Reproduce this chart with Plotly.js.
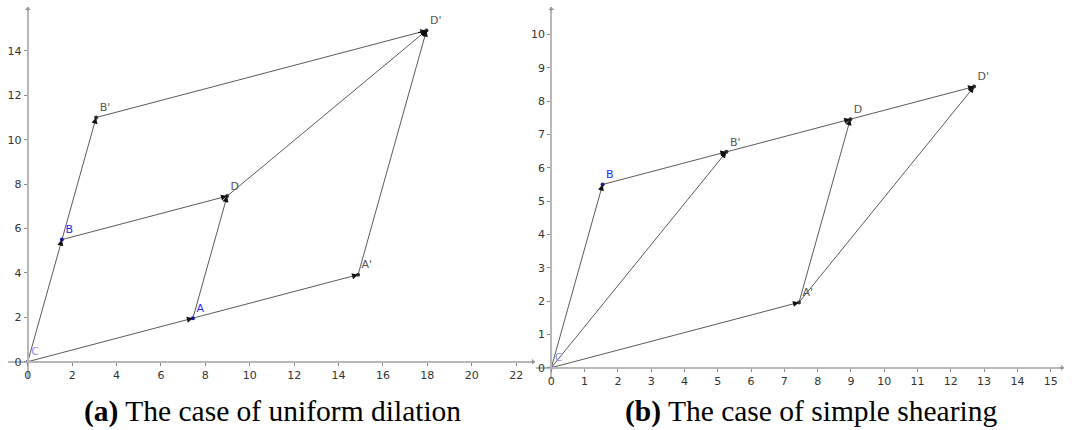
<!DOCTYPE html>
<html>
<head>
<meta charset="utf-8">
<script src="https://cdn.plot.ly/plotly-3.0.1.min.js"></script>
<style>html,body{margin:0;padding:0;background:#fff;}#chart{width:1072px;height:430px;}</style>
</head>
<body>
<div id="chart"></div>
<script>
// ---- Data: panel (a) uniform dilation ----
const namesA = ['C', 'A', 'B', 'D', "A'", "B'", "D'"];
const xA = [0, 7.44, 1.54, 8.98, 14.88, 3.08, 17.96];
const yA = [0, 1.96, 5.5, 7.46, 3.92, 11.0, 14.92];
const vectorsA = [['C','A'], ['A',"A'"], ['C','B'], ['B',"B'"], ['B','D'], ['A','D'], ['D',"D'"], ["A'","D'"], ["B'","D'"]];
const xTicksA = [0, 2, 4, 6, 8, 10, 12, 14, 16, 18, 20, 22];
const yTicksA = [0, 2, 4, 6, 8, 10, 12, 14];

// ---- Data: panel (b) simple shearing ----
const namesB = ['C', "A'", 'B', "B'", 'D', "D'"];
const xB = [0, 7.44, 1.54, 5.26, 8.98, 12.70];
const yB = [0, 1.96, 5.5, 6.48, 7.46, 8.44];
const vectorsB = [['C',"A'"], ['C','B'], ['C',"B'"], ['B',"B'"], ["B'",'D'], ['D',"D'"], ["A'",'D'], ["A'","D'"]];
const xTicksB = [0, 1, 2, 3, 4, 5, 6, 7, 8, 9, 10, 11, 12, 13, 14, 15];
const yTicksB = [0, 1, 2, 3, 4, 5, 6, 7, 8, 9, 10];

const captionA = '<b>(a)</b> The case of uniform dilation';
const captionB = '<b>(b)</b> The case of simple shearing';

// ---- Styling / layout ----
const W = 1072, H = 430;
const labelColor = {'C': '#8c8cff', 'A': '#2a2aff', 'B': '#2a2aff'};
const dotColor = {'C': '#3b3bb0', 'A': '#1a1aa0', 'B': '#1a1aa0'};
const rangeXA = [-0.89, 22.85], rangeYA = [-0.78, 15.98];
const rangeXB = [-0.46, 15.4], rangeYB = [-0.34, 10.83];
const domXA = [8 / W, 535 / W], domXB = [536 / W, 1064 / W];
const domY = [1 - 379 / H, 1 - 7 / H];

function zeroPos(range, dom) {
  return dom[0] + (0 - range[0]) / (range[1] - range[0]) * (dom[1] - dom[0]);
}

const traces = [];
const annotations = [];

function buildPanel(names, xs, ys, vectors, xref, yref) {
  const idx = {};
  names.forEach((n, i) => idx[n] = i);
  vectors.forEach(([t, h]) => {
    traces.push({
      type: 'scatter', mode: 'lines', xaxis: xref, yaxis: yref,
      x: [xs[idx[t]], xs[idx[h]]], y: [ys[idx[t]], ys[idx[h]]],
      line: {color: '#5a5a5a', width: 1}, hoverinfo: 'skip', showlegend: false
    });
    const hx = xs[idx[h]], hy = ys[idx[h]], tx = xs[idx[t]], ty = ys[idx[t]];
    annotations.push({
      xref: xref, yref: yref, axref: xref, ayref: yref,
      x: hx, y: hy, ax: hx - 0.03 * (hx - tx), ay: hy - 0.03 * (hy - ty),
      text: '', showarrow: true, arrowhead: 2, arrowsize: 1.1, arrowwidth: 1.1,
      arrowcolor: '#111', standoff: 0
    });
  });
  traces.push({
    type: 'scatter', mode: 'markers+text', xaxis: xref, yaxis: yref,
    x: xs, y: ys, text: names, textposition: 'top right',
    textfont: {family: 'DejaVu Sans', size: 11, color: names.map(n => labelColor[n] || '#555')},
    marker: {size: 4, color: names.map(n => dotColor[n] || '#333')},
    hoverinfo: 'skip', showlegend: false, cliponaxis: false
  });
}

buildPanel(namesA, xA, yA, vectorsA, 'x', 'y');
buildPanel(namesB, xB, yB, vectorsB, 'x2', 'y2');

function axisArrows(xref, yref, rx, ry) {
  annotations.push({xref: xref, yref: yref, x: rx[1], y: 0, ax: -6, ay: 0, text: '', showarrow: true,
    arrowhead: 1, arrowsize: 1, arrowwidth: 1, arrowcolor: '#999', standoff: 0});
  annotations.push({xref: xref, yref: yref, x: 0, y: ry[1], ax: 0, ay: 6, text: '', showarrow: true,
    arrowhead: 1, arrowsize: 1, arrowwidth: 1, arrowcolor: '#999', standoff: 0});
}
axisArrows('x', 'y', rangeXA, rangeYA);
axisArrows('x2', 'y2', rangeXB, rangeYB);

annotations.push({xref: 'paper', yref: 'paper', x: 272 / W, y: 1 - 411 / H, xanchor: 'center', yanchor: 'middle',
  text: captionA, showarrow: false, font: {family: 'Liberation Serif', size: 29.5, color: '#000'}});
annotations.push({xref: 'paper', yref: 'paper', x: 811 / W, y: 1 - 411 / H, xanchor: 'center', yanchor: 'middle',
  text: captionB, showarrow: false, font: {family: 'Liberation Serif', size: 29.5, color: '#000'}});

function axisCommon(range, dom, ticks, anchorPos) {
  return {
    range: range, domain: dom, anchor: 'free', position: anchorPos,
    tickmode: 'array', tickvals: ticks, ticktext: ticks.map(String),
    showgrid: false, zeroline: false, showline: true, linecolor: '#b8b8b8', linewidth: 2,
    ticks: 'outside', ticklen: 3, tickcolor: '#888', tickwidth: 1,
    tickfont: {family: 'DejaVu Sans', size: 11, color: '#333'}, fixedrange: true
  };
}

const layout = {
  width: W, height: H, margin: {l: 0, r: 0, t: 0, b: 0},
  paper_bgcolor: '#fff', plot_bgcolor: 'rgba(0,0,0,0)', showlegend: false,
  xaxis: axisCommon(rangeXA, domXA, xTicksA, zeroPos(rangeYA, domY)),
  yaxis: axisCommon(rangeYA, domY, yTicksA, zeroPos(rangeXA, domXA)),
  xaxis2: axisCommon(rangeXB, domXB, xTicksB, zeroPos(rangeYB, domY)),
  yaxis2: axisCommon(rangeYB, domY, yTicksB, zeroPos(rangeXB, domXB)),
  annotations: annotations
};

Plotly.newPlot('chart', traces, layout, {staticPlot: true, displayModeBar: false});
</script>
</body>
</html>
